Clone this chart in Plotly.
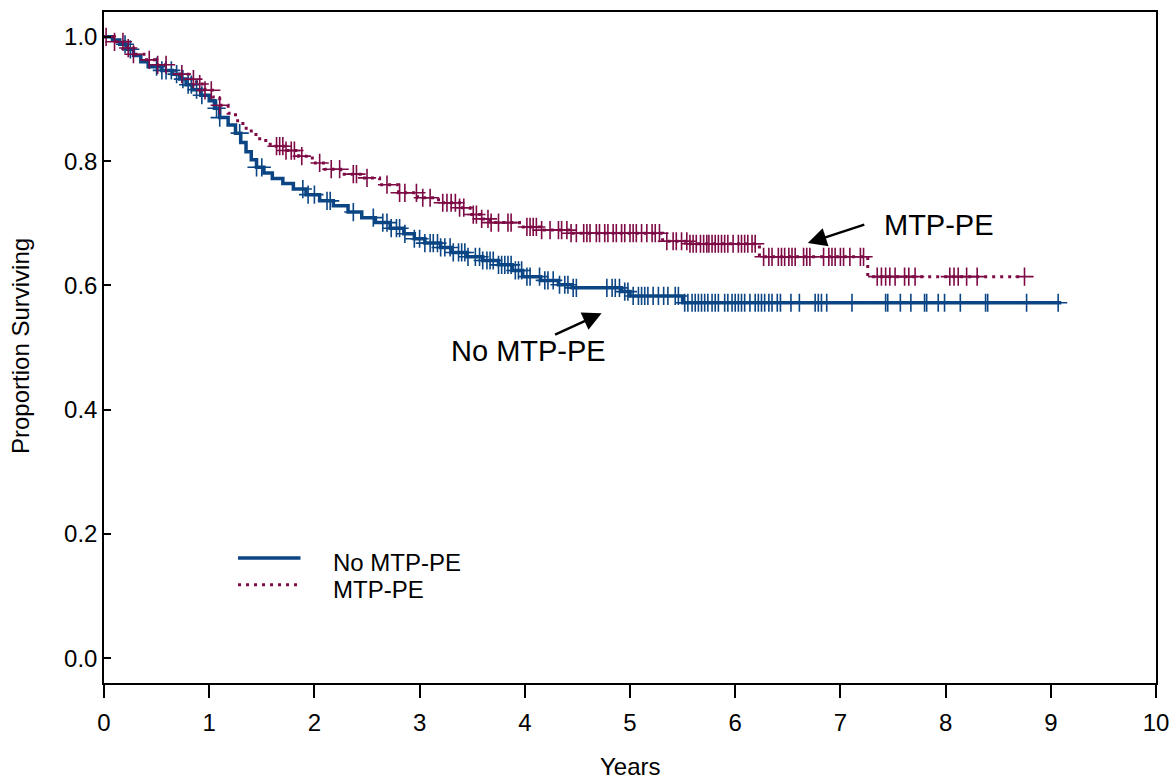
import numpy as np
import plotly.graph_objects as go

# ---------------- data ----------------
# No MTP-PE: step times (years) and survival after each step
no_times = [0.00, 0.08, 0.15, 0.22, 0.28, 0.35, 0.42, 0.55, 0.65, 0.72, 0.78, 0.84,
            0.92, 1.00, 1.05, 1.10, 1.18, 1.25, 1.30, 1.35, 1.40, 1.45, 1.52, 1.60,
            1.70, 1.80, 1.92, 2.05, 2.18, 2.32, 2.45, 2.58, 2.72, 2.85, 2.95, 3.05,
            3.20, 3.30, 3.45, 3.60, 3.75, 3.88, 3.98, 4.15, 4.32, 4.45, 4.92, 5.00, 5.50]
no_surv = [1.000, 0.995, 0.988, 0.980, 0.970, 0.960, 0.952, 0.946, 0.940, 0.932, 0.923, 0.915,
           0.906, 0.897, 0.885, 0.870, 0.858, 0.845, 0.830, 0.815, 0.802, 0.790, 0.781, 0.772,
           0.764, 0.755, 0.746, 0.736, 0.728, 0.718, 0.709, 0.701, 0.692, 0.683, 0.675, 0.668,
           0.661, 0.653, 0.646, 0.640, 0.633, 0.624, 0.614, 0.608, 0.601, 0.596, 0.590, 0.583, 0.572]
no_end = 9.10
no_censor = [0.20, 0.25, 0.50, 0.55, 0.59, 0.64, 0.69, 0.75, 0.80, 0.83, 0.88, 0.93, 1.07, 1.10,
             1.29, 1.45, 1.50, 1.89, 1.94, 2.00, 2.12, 2.15, 2.37, 2.56, 2.65, 2.69, 2.73, 2.78,
             2.81, 2.86, 2.95, 3.00, 3.05, 3.10, 3.13, 3.17, 3.20, 3.24, 3.29, 3.32, 3.37, 3.40,
             3.43, 3.46, 3.53, 3.57, 3.60, 3.64, 3.67, 3.70, 3.75, 3.78, 3.81, 3.84, 3.87, 3.91,
             3.94, 3.97, 4.02, 4.05, 4.14, 4.19, 4.22, 4.27, 4.33, 4.38, 4.41, 4.46, 4.49, 4.78,
             4.83, 4.86, 4.90, 4.95, 4.98, 5.03, 5.08, 5.11, 5.14, 5.17, 5.22, 5.27, 5.32, 5.36,
             5.43, 5.46, 5.52, 5.55, 5.59, 5.62, 5.65, 5.68, 5.71, 5.74, 5.78, 5.81, 5.84, 5.90,
             5.93, 5.97, 6.00, 6.03, 6.06, 6.09, 6.14, 6.19, 6.22, 6.25, 6.28, 6.32, 6.35, 6.40,
             6.43, 6.53, 6.61, 6.76, 6.79, 6.82, 6.87, 7.11, 7.43, 7.45, 7.57, 7.67, 7.80, 7.82,
             7.93, 7.99, 8.14, 8.38, 8.40, 8.77, 9.07]

# MTP-PE
mtp_times = [0.00, 0.10, 0.20, 0.28, 0.38, 0.48, 0.60, 0.70, 0.80, 0.88, 0.96, 1.03,
             1.10, 1.18, 1.25, 1.32, 1.40, 1.48, 1.58, 1.72, 1.85, 1.98, 2.10, 2.25,
             2.45, 2.62, 2.80, 2.98, 3.18, 3.38, 3.48, 3.58, 3.67, 3.95, 4.14, 4.43,
             5.31, 5.55, 6.23, 7.26]
mtp_surv = [1.000, 0.992, 0.982, 0.972, 0.963, 0.955, 0.946, 0.940, 0.932, 0.924, 0.914, 0.903,
            0.890, 0.877, 0.865, 0.853, 0.843, 0.833, 0.824, 0.817, 0.808, 0.797, 0.787, 0.779,
            0.773, 0.762, 0.749, 0.741, 0.733, 0.725, 0.714, 0.707, 0.701, 0.694, 0.689, 0.684,
            0.671, 0.667, 0.646, 0.614]
mtp_end = 8.75
mtp_censor = [0.02, 0.10, 0.18, 0.23, 0.28, 0.43, 0.51, 0.59, 0.74, 0.85, 0.91, 0.96, 1.02, 1.10,
              1.64, 1.67, 1.70, 1.73, 1.78, 1.81, 1.88, 2.05, 2.16, 2.24, 2.37, 2.40, 2.50, 2.69,
              2.81, 2.86, 2.97, 3.03, 3.10, 3.22, 3.26, 3.30, 3.34, 3.38, 3.42, 3.51, 3.54, 3.59,
              3.65, 3.68, 3.75, 3.84, 3.87, 4.02, 4.05, 4.08, 4.11, 4.16, 4.24, 4.32, 4.35, 4.40,
              4.44, 4.49, 4.56, 4.59, 4.62, 4.68, 4.71, 4.76, 4.79, 4.84, 4.87, 4.92, 4.95, 5.00,
              5.03, 5.06, 5.11, 5.16, 5.21, 5.24, 5.28, 5.35, 5.41, 5.44, 5.49, 5.54, 5.57, 5.60,
              5.63, 5.67, 5.70, 5.73, 5.75, 5.78, 5.81, 5.84, 5.87, 5.90, 5.93, 5.98, 6.03, 6.06,
              6.09, 6.12, 6.16, 6.19, 6.27, 6.32, 6.35, 6.41, 6.44, 6.47, 6.51, 6.54, 6.57, 6.65,
              6.68, 6.71, 6.84, 6.89, 6.92, 6.95, 7.00, 7.03, 7.09, 7.19, 7.22, 7.35, 7.39, 7.43,
              7.47, 7.52, 7.61, 7.65, 7.71, 8.04, 8.08, 8.12, 8.20, 8.30, 8.75]

x_ticks = [0, 1, 2, 3, 4, 5, 6, 7, 8, 9, 10]
y_ticks = [0.0, 0.2, 0.4, 0.6, 0.8, 1.0]
legend_labels = ["No MTP-PE", "MTP-PE"]
x_title = "Years"
y_title = "Proportion Surviving"

BLUE = "#0b4584"
RED = "#7d0a45"
FONT = "Liberation Sans, Arial, sans-serif"


def censor_y(times, surv, cens):
    t = np.asarray(times)
    s = np.asarray(surv)
    idx = np.searchsorted(t, np.asarray(cens), side="right") - 1
    return s[idx]


fig = go.Figure()

# curves
fig.add_trace(go.Scatter(x=no_times + [no_end], y=no_surv + [no_surv[-1]], mode="lines",
                         line=dict(color=BLUE, width=3.5, shape="hv"), name="No MTP-PE",
                         showlegend=False))
fig.add_trace(go.Scatter(x=mtp_times + [mtp_end], y=mtp_surv + [mtp_surv[-1]], mode="lines",
                         line=dict(color=RED, width=3, shape="hv", dash="3px,5px"), name="MTP-PE",
                         showlegend=False))
# censor marks
fig.add_trace(go.Scatter(x=no_censor, y=censor_y(no_times, no_surv, no_censor), mode="markers",
                         marker=dict(symbol="cross-thin", size=13, line=dict(color=BLUE, width=1.6)),
                         showlegend=False, hoverinfo="skip"))
fig.add_trace(go.Scatter(x=mtp_censor, y=censor_y(mtp_times, mtp_surv, mtp_censor), mode="markers",
                         marker=dict(symbol="cross-thin", size=13, line=dict(color=RED, width=1.6)),
                         showlegend=False, hoverinfo="skip"))

# manual legend
fig.add_shape(type="line", x0=1.274, x1=1.868, y0=0.161, y1=0.161, xref="x", yref="y",
              line=dict(color=BLUE, width=3.5))
fig.add_shape(type="line", x0=1.274, x1=1.868, y0=0.118, y1=0.118, xref="x", yref="y",
              line=dict(color=RED, width=3, dash="3px,5px"))
fig.add_annotation(x=2.153, y=0.1545, text=legend_labels[0], showarrow=False, xanchor="left",
                   yanchor="middle", font=dict(size=24, color="black", family=FONT))
fig.add_annotation(x=2.153, y=0.110, text=legend_labels[1], showarrow=False, xanchor="left",
                   yanchor="middle", font=dict(size=24, color="black", family=FONT))

# labelled arrows
fig.add_annotation(x=6.69, y=0.668, ax=58, ay=-19, text="", showarrow=True, arrowhead=2,
                   arrowsize=1.5, arrowwidth=2.5, arrowcolor="black", xref="x", yref="y")
fig.add_annotation(x=7.40, y=0.697, text="MTP-PE", showarrow=False, xanchor="left",
                   yanchor="middle", font=dict(size=29, color="black", family=FONT))
fig.add_annotation(x=4.73, y=0.555, ax=-48, ay=22, text="", showarrow=True, arrowhead=2,
                   arrowsize=1.5, arrowwidth=2.5, arrowcolor="black", xref="x", yref="y")
fig.add_annotation(x=3.28, y=0.495, text="No MTP-PE", showarrow=False, xanchor="left",
                   yanchor="middle", font=dict(size=29, color="black", family=FONT))

# axis titles
fig.add_annotation(x=0.5, y=-0.125, xref="paper", yref="paper", text=x_title, showarrow=False,
                   xanchor="center", yanchor="middle", font=dict(size=24, color="black", family=FONT))
fig.add_annotation(x=-0.08, y=0.502, xref="paper", yref="paper", text=y_title, showarrow=False,
                   textangle=-90, xanchor="center", yanchor="middle",
                   font=dict(size=24, color="black", family=FONT))

fig.update_layout(
    width=1172, height=783,
    margin=dict(l=104, r=16, t=12, b=100, autoexpand=False),
    paper_bgcolor="white", plot_bgcolor="white",
    font=dict(family=FONT, size=24, color="black"),
    showlegend=False,
)
fig.update_xaxes(range=[0, 10], tickvals=x_ticks, ticktext=[str(v) for v in x_ticks],
                 ticks="outside", ticklen=13, tickwidth=1.5, tickcolor="black",
                 showline=True, linecolor="black", linewidth=1.5, mirror=True,
                 showgrid=False, zeroline=False, automargin=False, ticklabelstandoff=4,
                 tickfont=dict(size=24))
fig.update_yaxes(range=[-0.04, 1.04], tickvals=y_ticks, ticktext=[f"{v:.1f}" for v in y_ticks],
                 ticks="inside", ticklen=7, tickwidth=1.5, tickcolor="black",
                 showline=True, linecolor="black", linewidth=1.5, mirror=True,
                 showgrid=False, zeroline=False, automargin=False,
                 tickfont=dict(size=24))

fig.write_html("out.html", config={"displayModeBar": False},
               post_script="document.body.style.margin='0';document.body.style.overflow='hidden';")
